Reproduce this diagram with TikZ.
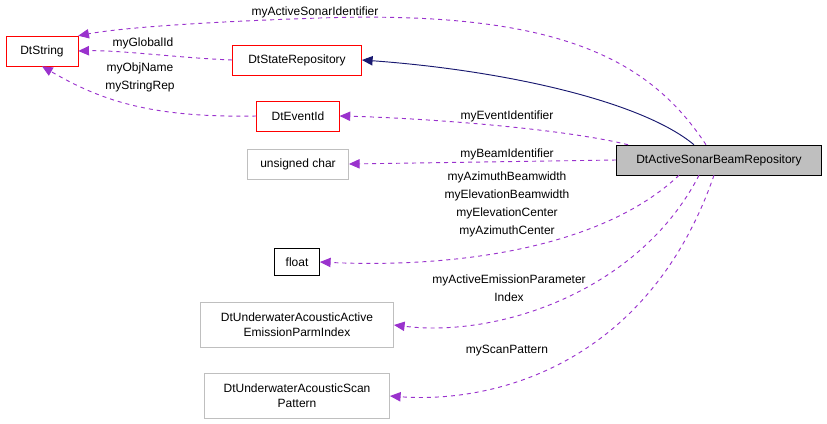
\documentclass[tikz,border=0pt]{standalone}
\usepackage{fontspec}
\setmainfont{Liberation Sans}
\usetikzlibrary{arrows.meta, positioning}
\definecolor{edgepurple}{HTML}{9A32CD}
\definecolor{edgenavy}{HTML}{191970}
\definecolor{boxgray}{HTML}{BFBFBF}

\begin{document}
\begin{tikzpicture}[x=0.75pt, y=-0.75pt,
    every node/.style={font=\fontsize{9}{13.5}\selectfont},
    cls/.style={draw, inner sep=0pt, minimum height=22.5pt, align=center},
    redcls/.style={cls, draw=red},
    graycls/.style={cls, draw=boxgray},
    member/.style={-{Triangle[length=8pt, width=7pt]}, dashed, line width=0.7pt, edgepurple},
    inherit/.style={-{Triangle[length=8pt, width=7pt]}, line width=0.7pt, edgenavy},
    lbl/.style={inner sep=0pt, align=center}
]
    \useasboundingbox (0,0) rectangle (827,424);

    % Classes
    \node[redcls, minimum width=54pt] (dtstring) at (42,51) {DtString};
    \node[redcls, minimum width=97pt] (staterepo) at (297,60) {DtStateRepository};
    \node[redcls, minimum width=62pt] (eventid) at (298,116) {DtEventId};
    \node[graycls, minimum width=76pt] (uchar) at (298,164) {unsigned char};
    \node[cls, fill=boxgray, minimum width=154pt] (beamrepo) at (719,160) {DtActiveSonarBeamRepository};
    \node[cls, draw=black, minimum width=34pt, minimum height=20pt] (float) at (297,262) {float};
    \node[graycls, minimum width=145pt, minimum height=34pt, font=\fontsize{9}{11}\selectfont] (emission) at (297,325) {DtUnderwaterAcousticActive\\EmissionParmIndex};
    \node[graycls, minimum width=139pt, minimum height=34pt, font=\fontsize{9}{11}\selectfont] (scan) at (297,396) {DtUnderwaterAcousticScan\\Pattern};

    % Inheritance
    \draw[inherit] (beamrepo.north) ++(-25,0) .. controls (640,100) and (500,70) .. (staterepo.east);

    % Members
    \draw[member] (staterepo.west) .. controls (180,58) and (120,50) .. (dtstring.east);
    \draw[member] (eventid.west) .. controls (150,118) and (100,100) .. (dtstring.south);
    \draw[member] (beamrepo.north) ++(-13,0) .. controls (650,60) and (560,10) .. (320,18) .. controls (200,22) and (120,28) .. (dtstring.north east);
    \draw[member] (beamrepo.north west) ++(12,0) .. controls (560,128) and (420,118) .. (eventid.east);
    \draw[member] (beamrepo.west) -- (uchar.east);
    \draw[member] (beamrepo.south) ++(-40,0) .. controls (600,250) and (450,268) .. (float.east);
    \draw[member] (beamrepo.south) ++(-20,0) .. controls (640,290) and (500,338) .. (emission.east);
    \draw[member] (beamrepo.south) ++(-5,0) .. controls (650,360) and (500,404) .. (scan.east);

    % Labels
    \node[lbl] (lactive) at (315,12) {myActiveSonarIdentifier};
    \node[lbl] (lglobal) at (143,43) {myGlobalId};
    \node[lbl] (lobj) at (140,77) {myObjName\\myStringRep};
    \node[lbl] (levent) at (507,116) {myEventIdentifier};
    \node[lbl] (lbeam) at (507,154) {myBeamIdentifier};
    \node[lbl] (lfloat) at (507,204) {myAzimuthBeamwidth\\myElevationBeamwidth\\myElevationCenter\\myAzimuthCenter};
    \node[lbl] (lemis) at (509,288) {myActiveEmissionParameter\\Index};
    \node[lbl] (lscan) at (507,351) {myScanPattern};
\end{tikzpicture}
\end{document}
